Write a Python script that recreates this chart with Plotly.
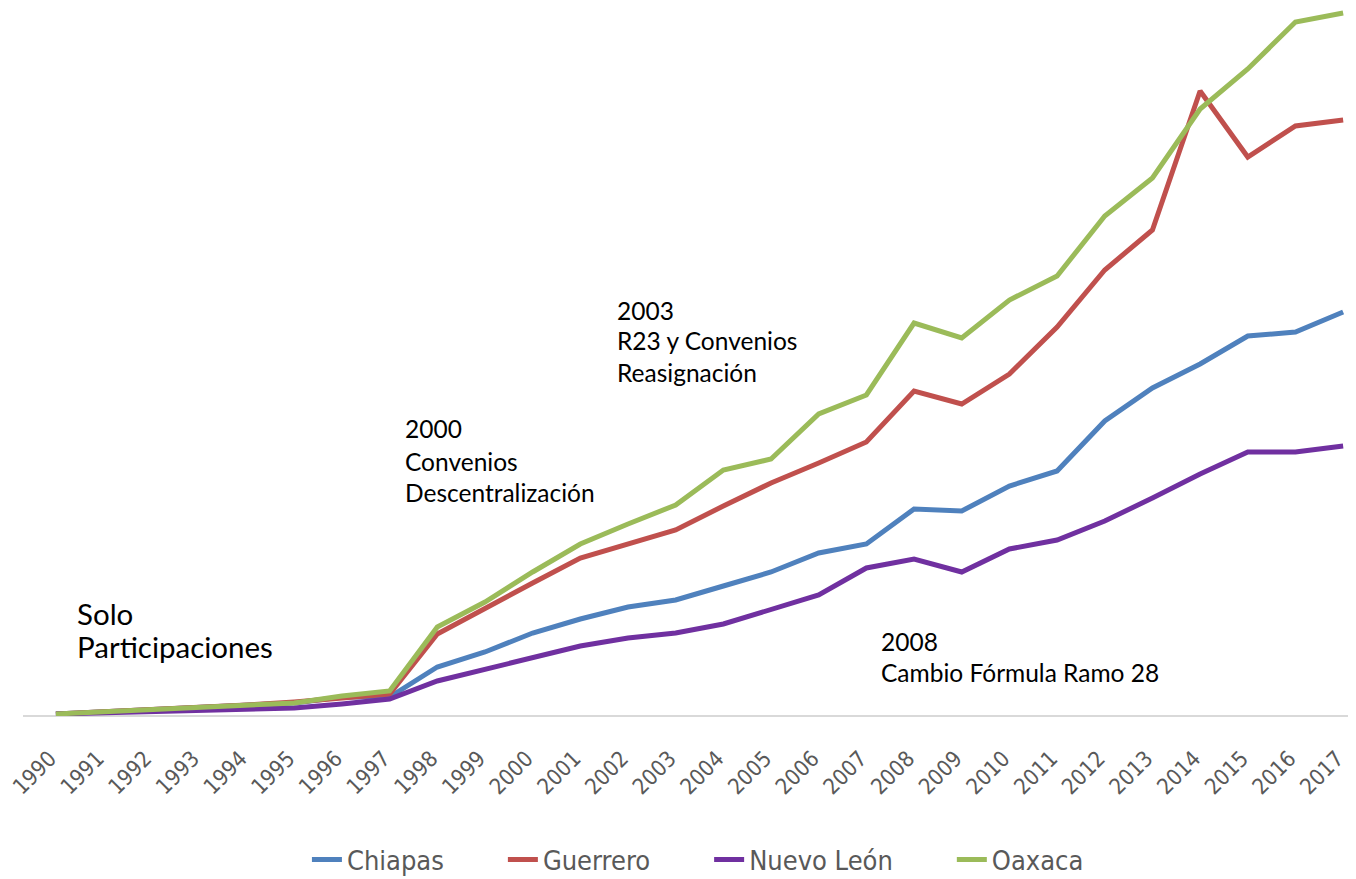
import plotly.graph_objects as go

years = list(range(1990, 2018))

chiapas = [0.2, 0.4, 0.6, 0.8, 1.0, 1.3, 1.9, 1.9, 4.9, 6.4, 8.3, 9.7, 10.9, 11.6, 13.0, 14.4, 16.3, 17.2, 20.7, 20.5, 23.0, 24.5, 29.5, 32.8, 35.2, 38.0, 38.4, 40.4]
guerrero = [0.2, 0.4, 0.7, 0.9, 1.1, 1.4, 1.8, 2.2, 8.2, 10.8, 13.3, 15.8, 17.2, 18.6, 21.0, 23.3, 25.3, 27.4, 32.5, 31.2, 34.2, 38.9, 44.6, 48.6, 62.5, 55.9, 59.0, 59.6]
nuevo_leon = [0.2, 0.3, 0.5, 0.6, 0.7, 0.8, 1.2, 1.7, 3.5, 4.7, 5.8, 7.0, 7.8, 8.3, 9.2, 10.7, 12.1, 14.8, 15.7, 14.4, 16.7, 17.6, 19.5, 21.8, 24.2, 26.4, 26.4, 27.0]
oaxaca = [0.2, 0.4, 0.7, 0.9, 1.0, 1.3, 2.0, 2.5, 8.9, 11.4, 14.4, 17.2, 19.2, 21.1, 24.6, 25.7, 30.2, 32.1, 39.3, 37.8, 41.6, 44.0, 50.0, 53.8, 60.7, 64.7, 69.4, 70.3]

series = [
    ("Chiapas", chiapas, "#4f81bd"),
    ("Guerrero", guerrero, "#c0504d"),
    ("Nuevo León", nuevo_leon, "#7030a0"),
    ("Oaxaca", oaxaca, "#9bbb59"),
]

# annotation lines: (x in data years, y in data units, text, size)
notes = [
    (1990.40, 10.3, "Solo", 29.5),
    (1990.40, 7.0, "Participaciones", 29.5),
    (1997.28, 28.8, "2000", 24.5),
    (1997.28, 25.5, "Convenios", 24.5),
    (1997.28, 22.4, "Descentralización", 24.5),
    (2001.73, 40.6, "2003", 24.5),
    (2001.73, 37.6, "R23 y Convenios", 24.5),
    (2001.73, 34.4, "Reasignación", 24.5),
    (2007.27, 7.5, "2008", 24.5),
    (2007.27, 4.4, "Cambio Fórmula Ramo 28", 24.5),
]

pad = "\u00a0" * 7

fig = go.Figure()
for name, vals, color in series:
    fig.add_trace(go.Scatter(
        x=years, y=vals, name=name + pad, mode="lines",
        line=dict(color=color, width=5),
    ))

for x, y, t, s in notes:
    fig.add_annotation(
        x=x, y=y, xref="x", yref="y", text=t, showarrow=False,
        xanchor="left", yanchor="middle",
        font=dict(family="Lato, 'Open Sans', sans-serif", size=s, color="#000000"),
    )

cond_font = "'DejaVu Sans Condensed', 'DejaVu Sans', sans-serif"

fig.update_layout(
    width=1348, height=871,
    margin=dict(l=15, r=0, t=0, b=163, autoexpand=False),
    paper_bgcolor="white", plot_bgcolor="white",
    xaxis=dict(
        range=[1989.31, 2017.27],
        tickmode="array", tickvals=years, ticktext=[str(y) for y in years],
        tickangle=-45, tickfont=dict(family=cond_font, size=22, color="#595959"),
        ticks="outside", ticklen=20, tickcolor="rgba(0,0,0,0)",
        ticklabelshift=-6,
        ticklabeloverflow="allow",
        showgrid=False, zeroline=False, showline=False,
    ),
    yaxis=dict(
        range=[0, 70.8], showticklabels=False, showgrid=False,
        zeroline=True, zerolinecolor="#d9d9d9", zerolinewidth=2,
        showline=False,
    ),
    legend=dict(
        orientation="h", x=0.213, xanchor="left", y=-0.2034, yanchor="middle",
        font=dict(family=cond_font, size=27, color="#595959"),
        itemwidth=30,
    ),
    showlegend=True,
)

fig.write_html("out.html")
